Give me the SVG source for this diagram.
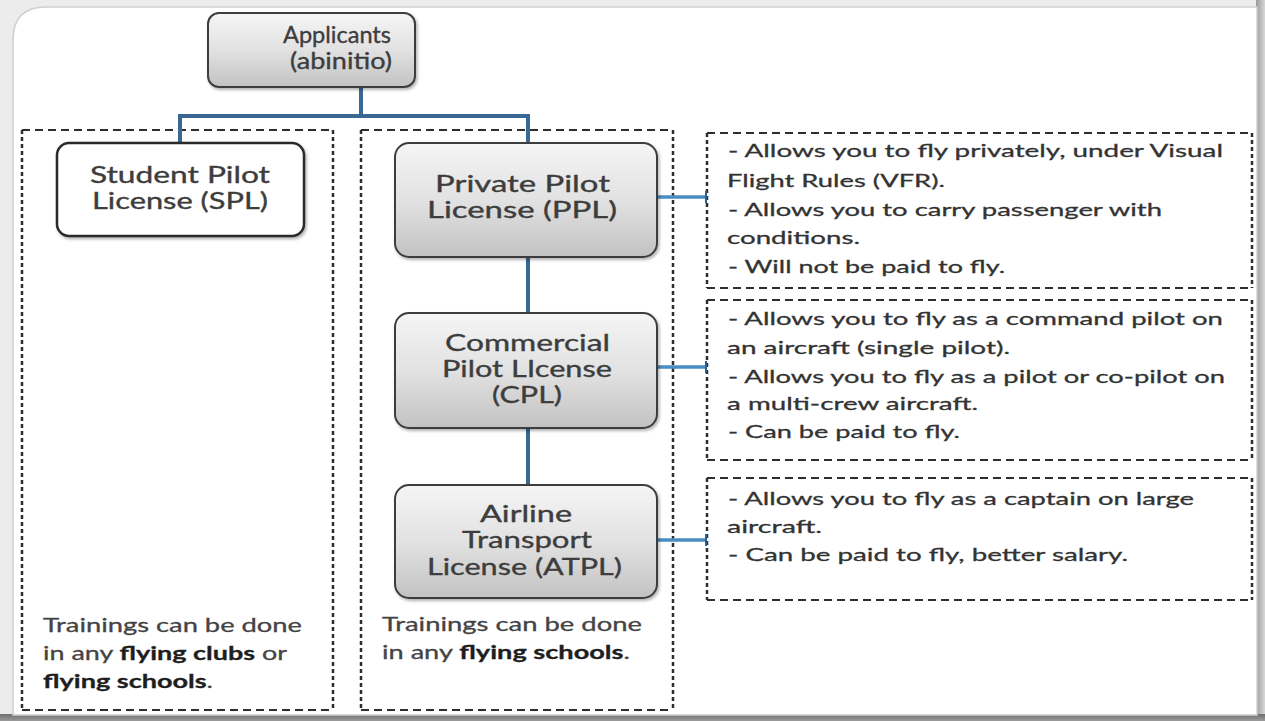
<svg xmlns="http://www.w3.org/2000/svg" width="1265" height="721" viewBox="0 0 1265 721">
<defs>
<linearGradient id="boxGrad" x1="0" y1="0" x2="0" y2="1">
<stop offset="0" stop-color="#f5f5f5"/>
<stop offset="0.5" stop-color="#e2e2e2"/>
<stop offset="1" stop-color="#c2c2c2"/>
</linearGradient>
<linearGradient id="rightShade" x1="0" y1="0" x2="1" y2="0">
<stop offset="0" stop-color="#9a9a9a"/>
<stop offset="1" stop-color="#d8d8d8"/>
</linearGradient>
<linearGradient id="bottomShade" x1="0" y1="0" x2="0" y2="1">
<stop offset="0" stop-color="#6e6e6e"/>
<stop offset="1" stop-color="#9c9c9c"/>
</linearGradient>
<filter id="shadow" x="-10%" y="-10%" width="125%" height="130%">
<feDropShadow dx="1.5" dy="2" stdDeviation="1.5" flood-color="#000" flood-opacity="0.3"/>
</filter>
</defs>
<style>
.box{fill:url(#boxGrad);stroke:#3e3e3e;stroke-width:2}
.wbox{fill:#ffffff;stroke:#2a2a2a;stroke-width:2.5}
.title{font-family:Lato,"Open Sans","Liberation Sans",sans-serif;font-size:23px;fill:#3d3d3d;stroke:#3d3d3d;stroke-width:0.35}
.desc{font-family:Lato,"Open Sans","Liberation Sans",sans-serif;font-size:18px;fill:#333333;stroke:#333333;stroke-width:0.3}
.note{font-family:Lato,"Open Sans","Liberation Sans",sans-serif;font-size:19px;fill:#444444;stroke:#444444;stroke-width:0.3}
.b{font-weight:bold;fill:#1e1e1e;stroke:#1e1e1e}
.dh{fill:none;stroke:#2e2e2e;stroke-width:2;stroke-dasharray:8 5}
.dv{fill:none;stroke:#2e2e2e;stroke-width:2.5;stroke-dasharray:4 3}
.main{fill:none;stroke:#3a6794;stroke-width:4}
.side{fill:none;stroke:#4a8dc2;stroke-width:3.5}
</style>
<!-- background frame -->
<rect x="0" y="0" width="1265" height="721" fill="#ececec"/>
<rect x="1256" y="0" width="9" height="721" fill="url(#rightShade)"/>
<rect x="0" y="714" width="1265" height="7" fill="url(#bottomShade)"/>
<path d="M13,40 Q13,7 46,7 H1257 V715 H13 Z" fill="#ffffff" stroke="#cfcfcf" stroke-width="1.5"/>

<!-- dashed containers -->
<g id="container-left">
<path class="dh" d="M22,130 H333 M22,710 H333"/>
<path class="dv" d="M22,130 V710 M333,130 V710"/>
</g>
<g id="container-middle">
<path class="dh" d="M361,130 H673 M361,710 H673"/>
<path class="dv" d="M361,130 V710 M673,130 V710"/>
</g>
<g id="desc-ppl">
<path class="dh" d="M707,133 H1252 M707,288 H1252"/>
<path class="dv" d="M707,133 V288 M1252,133 V288"/>
<text class="desc" x="728" y="157" textLength="495" lengthAdjust="spacingAndGlyphs">- Allows you to fly privately, under Visual</text>
<text class="desc" x="727" y="187" textLength="218" lengthAdjust="spacingAndGlyphs">Flight Rules (VFR).</text>
<text class="desc" x="728" y="216" textLength="434" lengthAdjust="spacingAndGlyphs">- Allows you to carry passenger with</text>
<text class="desc" x="727" y="244" textLength="133" lengthAdjust="spacingAndGlyphs">conditions.</text>
<text class="desc" x="728" y="273" textLength="277" lengthAdjust="spacingAndGlyphs">- Will not be paid to fly.</text>
</g>
<g id="desc-cpl">
<path class="dh" d="M707,300 H1252 M707,460 H1252"/>
<path class="dv" d="M707,300 V460 M1252,300 V460"/>
<text class="desc" x="728" y="325" textLength="495" lengthAdjust="spacingAndGlyphs">- Allows you to fly as a command pilot on</text>
<text class="desc" x="727" y="354" textLength="283" lengthAdjust="spacingAndGlyphs">an aircraft (single pilot).</text>
<text class="desc" x="728" y="383" textLength="497" lengthAdjust="spacingAndGlyphs">- Allows you to fly as a pilot or co-pilot on</text>
<text class="desc" x="727" y="410" textLength="251" lengthAdjust="spacingAndGlyphs">a multi-crew aircraft.</text>
<text class="desc" x="728" y="438" textLength="232" lengthAdjust="spacingAndGlyphs">- Can be paid to fly.</text>
</g>
<g id="desc-atpl">
<path class="dh" d="M707,478 H1252 M707,600 H1252"/>
<path class="dv" d="M707,478 V600 M1252,478 V600"/>
<text class="desc" x="728" y="505" textLength="466" lengthAdjust="spacingAndGlyphs">- Allows you to fly as a captain on large</text>
<text class="desc" x="727" y="533" textLength="95" lengthAdjust="spacingAndGlyphs">aircraft.</text>
<text class="desc" x="728" y="561" textLength="400" lengthAdjust="spacingAndGlyphs">- Can be paid to fly, better salary.</text>
</g>

<!-- connectors -->
<g id="connectors">
<path class="main" d="M361,87 V116 M180,116 H528 M180,114 V143 M528,114 V143 M528,257 V313 M528,428 V485"/>
<path class="side" d="M657,197 H706 M657,367 H706 M657,540 H706"/>
<path fill="none" stroke="#2f5f8a" stroke-width="2" d="M706,191 V203 M706,361 V373 M706,534 V546"/>
</g>

<!-- nodes -->
<g id="applicants">
<rect class="box" x="208" y="13" width="207" height="74" rx="11" filter="url(#shadow)"/>
<text class="title" x="283" y="43" textLength="108" lengthAdjust="spacingAndGlyphs">Applicants</text>
<text class="title" x="290" y="69" textLength="102" lengthAdjust="spacingAndGlyphs">(abinitio)</text>
</g>
<g id="spl">
<rect class="wbox" x="57" y="143" width="247" height="93" rx="12" filter="url(#shadow)"/>
<text class="title" x="90" y="183" textLength="180" lengthAdjust="spacingAndGlyphs">Student Pilot</text>
<text class="title" x="92" y="209" textLength="176" lengthAdjust="spacingAndGlyphs">License (SPL)</text>
</g>
<g id="ppl">
<rect class="box" x="395" y="143" width="262" height="114" rx="14" filter="url(#shadow)"/>
<text class="title" x="435" y="192" textLength="175" lengthAdjust="spacingAndGlyphs">Private Pilot</text>
<text class="title" x="427" y="218" textLength="190" lengthAdjust="spacingAndGlyphs">License (PPL)</text>
</g>
<g id="cpl">
<rect class="box" x="395" y="313" width="262" height="115" rx="14" filter="url(#shadow)"/>
<text class="title" x="445" y="351" textLength="165" lengthAdjust="spacingAndGlyphs">Commercial</text>
<text class="title" x="442" y="377" textLength="170" lengthAdjust="spacingAndGlyphs">Pilot LIcense</text>
<text class="title" x="492" y="403" textLength="70" lengthAdjust="spacingAndGlyphs">(CPL)</text>
</g>
<g id="atpl">
<rect class="box" x="395" y="485" width="262" height="113" rx="14" filter="url(#shadow)"/>
<text class="title" x="480" y="522" textLength="92" lengthAdjust="spacingAndGlyphs">Airline</text>
<text class="title" x="462" y="548" textLength="130" lengthAdjust="spacingAndGlyphs">Transport</text>
<text class="title" x="427" y="575" textLength="195" lengthAdjust="spacingAndGlyphs">License (ATPL)</text>
</g>

<!-- notes -->
<g id="note-left">
<text class="note" x="43" y="632" textLength="259" lengthAdjust="spacingAndGlyphs">Trainings can  be done</text>
<text class="note" x="43" y="660" textLength="244" lengthAdjust="spacingAndGlyphs">in any <tspan class="b">flying clubs</tspan> or</text>
<text class="note" x="43" y="688" textLength="170" lengthAdjust="spacingAndGlyphs"><tspan class="b">flying schools</tspan>.</text>
</g>
<g id="note-middle">
<text class="note" x="382" y="631" textLength="260" lengthAdjust="spacingAndGlyphs">Trainings can  be done</text>
<text class="note" x="382" y="659" textLength="248" lengthAdjust="spacingAndGlyphs">in any <tspan class="b">flying schools</tspan>.</text>
</g>
</svg>
